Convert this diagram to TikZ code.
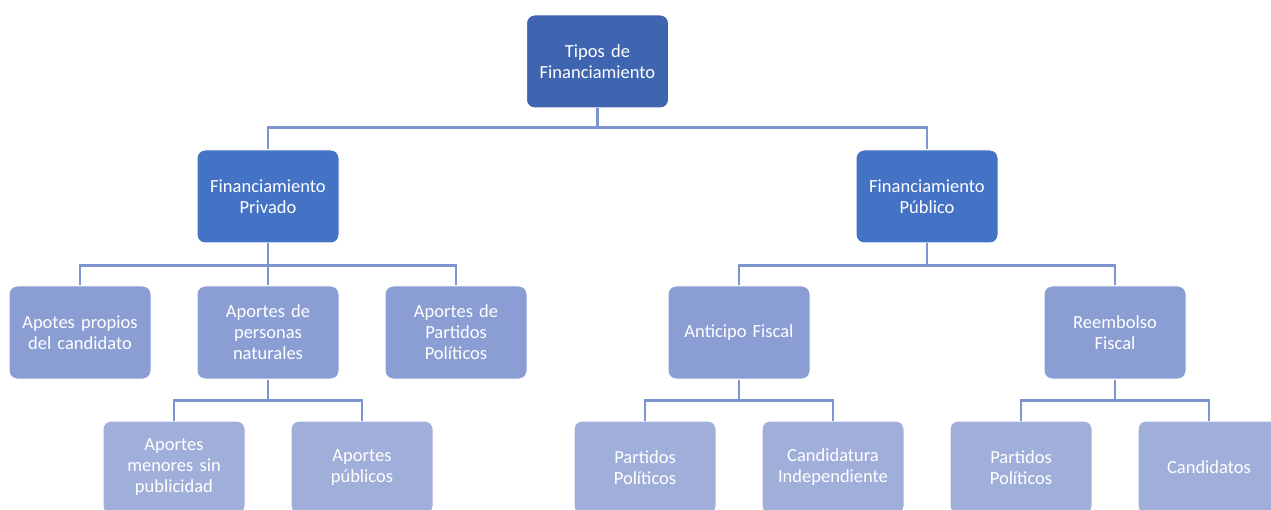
\documentclass[tikz,border=0pt]{standalone}
\usepackage{fontspec}
\setmainfont{Carlito}
\definecolor{c1}{HTML}{3F65B1}
\definecolor{c2}{HTML}{4472C4}
\definecolor{c3}{HTML}{8A9ED4}
\definecolor{c4}{HTML}{A0AFDA}
\definecolor{cl}{HTML}{7D94CF}
\tikzset{
  box/.style={rectangle, rounded corners=8pt, draw=white, line width=1pt,
    minimum width=142pt, minimum height=93pt, text width=136pt, align=center,
    text=white, font=\fontsize{18.5}{21}\selectfont, inner sep=0pt},
  lv1/.style={box, fill=c1},
  lv2/.style={box, fill=c2},
  lv3/.style={box, fill=c3},
  lv4/.style={box, fill=c4},
  conn/.style={draw=cl, line width=2.6pt}
}
\begin{document}
\begin{tikzpicture}[x=1pt,y=-1pt]
\useasboundingbox (0,0) rectangle (1271,510);
\clip (0,0) rectangle (1271,510);
\fill[white] (0,0) rectangle (1271,510);
% level 1
\node[lv1] (top) at (597.5,61.5) {Tipos de\\Financiamiento};
% level 2
\node[lv2] (priv) at (268,196.5) {Financiamiento\\Privado};
\node[lv2] (pub) at (927,196.5) {Financiamiento\\Público};
% level 3
\node[lv3] (prop) at (80,332.5) {Apotes propios\\del candidato};
\node[lv3] (pers) at (268,332.5) {Aportes de\\personas\\naturales};
\node[lv3] (part) at (456,332.5) {Aportes de\\Partidos\\Políticos};
\node[lv3] (anti) at (739,332.5) {Anticipo Fiscal};
\node[lv3] (reem) at (1115,332.5) {Reembolso\\Fiscal};
% level 4
\node[lv4] (meno) at (174,467.5) {Aportes\\menores sin\\publicidad};
\node[lv4] (publ) at (362,467.5) {Aportes\\públicos};
\node[lv4] (pp1) at (645,467.5) {Partidos\\Políticos};
\node[lv4] (cand) at (833,467.5) {Candidatura\\Independiente};
\node[lv4] (pp2) at (1021,467.5) {Partidos\\Políticos};
\node[lv4] (cnds) at (1209,467.5) {Candidatos};
% connectors
\draw[conn] (top.south) -- ++(0,19) coordinate (b1) -| (priv.north);
\draw[conn] (b1) -| (pub.north);
\draw[conn] (priv.south) -- ++(0,22) coordinate (b2) -| (prop.north);
\draw[conn] (b2) -| (pers.north);
\draw[conn] (b2) -| (part.north);
\draw[conn] (pub.south) -- ++(0,22) coordinate (b3) -| (anti.north);
\draw[conn] (b3) -| (reem.north);
\draw[conn] (pers.south) -- ++(0,21) coordinate (b4) -| (meno.north);
\draw[conn] (b4) -| (publ.north);
\draw[conn] (anti.south) -- ++(0,21) coordinate (b5) -| (pp1.north);
\draw[conn] (b5) -| (cand.north);
\draw[conn] (reem.south) -- ++(0,21) coordinate (b6) -| (pp2.north);
\draw[conn] (b6) -| (cnds.north);
\end{tikzpicture}
\end{document}
